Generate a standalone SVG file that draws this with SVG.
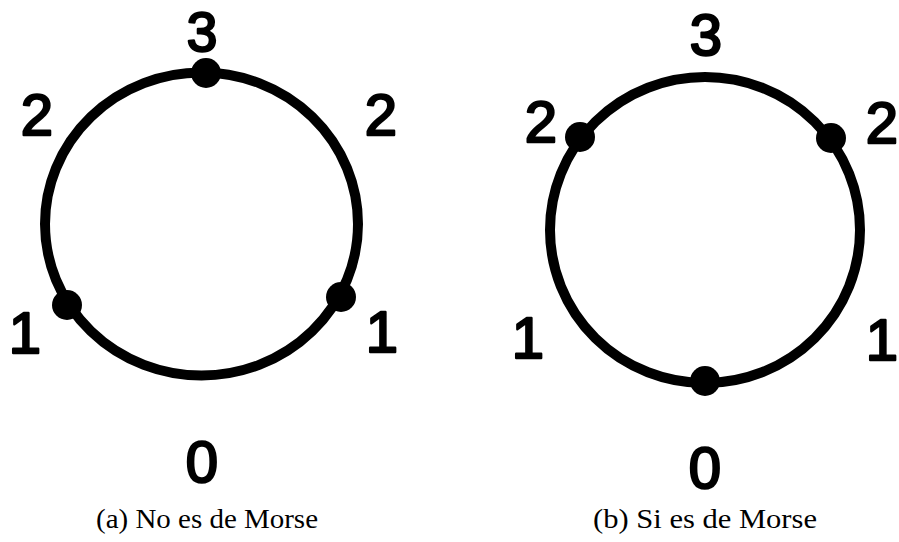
<svg xmlns="http://www.w3.org/2000/svg" width="899" height="542" viewBox="0 0 899 542">
<style>
.ring{fill:none;stroke:#000;stroke-width:10}
.dot{fill:#000}
.num{font-family:"Liberation Sans",Arial,sans-serif;font-weight:normal;font-size:58px;fill:#000;stroke:#000;stroke-width:2.4;stroke-linejoin:round;text-anchor:middle}
.top{font-size:55px}
.cap{font-family:"Liberation Serif","Times New Roman",serif;font-size:27px;fill:#000;text-anchor:middle}
</style>
<rect width="899" height="542" fill="#fff"/>
<g id="fig-a">
<g id="circle-a"><ellipse class="ring" cx="201.5" cy="224" rx="156.5" ry="151.5"/></g>
<g id="a-dot-top"><circle class="dot" cx="206" cy="73" r="15"/></g>
<g id="a-dot-left"><circle class="dot" cx="67" cy="305" r="15"/></g>
<g id="a-dot-right"><circle class="dot" cx="341" cy="297" r="15"/></g>
<text class="num top" x="202" y="51">3</text>
<text class="num" x="37" y="135">2</text>
<text class="num" x="381" y="135">2</text>
<text class="num" x="25" y="353">1</text>
<text class="num" x="382" y="352">1</text>
<text class="num" x="202" y="482">0</text>
<text class="cap" x="207" y="528" textLength="222" lengthAdjust="spacingAndGlyphs">(a) No es de Morse</text>
</g>
<g id="fig-b">
<g id="circle-b"><ellipse class="ring" cx="705" cy="230" rx="155" ry="153"/></g>
<g id="b-dot-left"><circle class="dot" cx="580" cy="137" r="15"/></g>
<g id="b-dot-right"><circle class="dot" cx="831" cy="138" r="15"/></g>
<g id="b-dot-bottom"><circle class="dot" cx="705" cy="381" r="15"/></g>
<text class="num" x="706" y="55">3</text>
<text class="num" x="541" y="142">2</text>
<text class="num" x="882" y="143">2</text>
<text class="num" x="528" y="358">1</text>
<text class="num" x="882" y="360">1</text>
<text class="num" x="705" y="488">0</text>
<text class="cap" x="705" y="528" textLength="224" lengthAdjust="spacingAndGlyphs">(b) Si es de Morse</text>
</g>
<g id="connectors"/>
</svg>
